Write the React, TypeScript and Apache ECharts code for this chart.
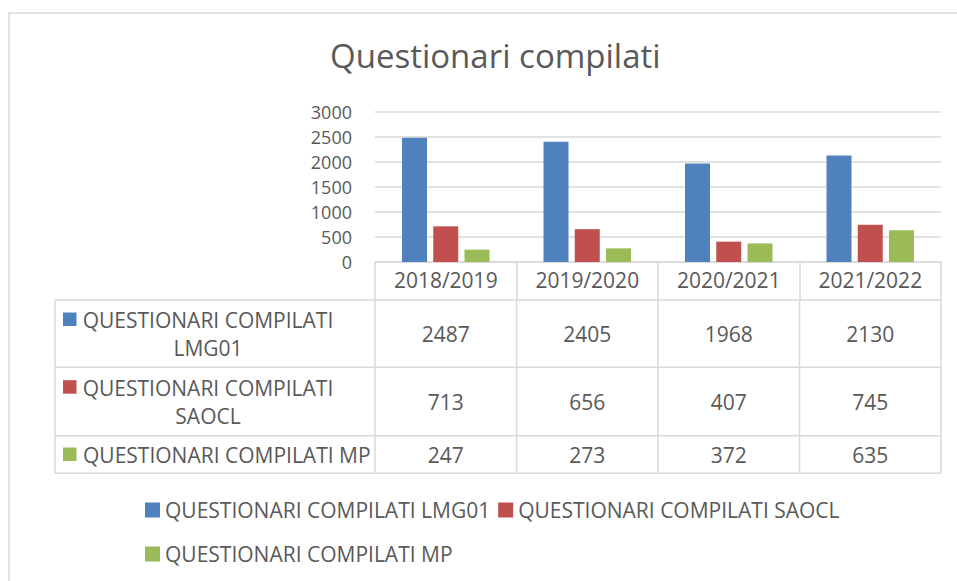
import React, { useEffect, useRef } from 'react';
import * as echarts from 'echarts';

const categories = ['2018/2019', '2019/2020', '2020/2021', '2021/2022'];
const seriesNames = ['QUESTIONARI COMPILATI LMG01', 'QUESTIONARI COMPILATI SAOCL', 'QUESTIONARI COMPILATI MP'];
const rowLabels = ['QUESTIONARI COMPILATI\nLMG01', 'QUESTIONARI COMPILATI\nSAOCL', 'QUESTIONARI COMPILATI MP'];
const lmg01 = [2487, 2405, 1968, 2130];
const saocl = [713, 656, 407, 745];
const mp = [247, 273, 372, 635];
const yMin = 0;
const yMax = 3000;
const yStep = 500;
const colors = ['#4f81bd', '#c0504d', '#9bbb59'];
const titleText = 'Questionari compilati';

const FONT = '"Open Sans", "Noto Sans", sans-serif';
const TXT = '#595959';
const GRID = '#d9d9d9';
const FS = 21;

export default function App() {
  const ref = useRef<HTMLDivElement>(null);
  useEffect(() => {
    if (!ref.current) return;
    const chart = echarts.init(ref.current, null, { renderer: 'svg' });
    const gridLeft = 375;
    const gridRight = 941;
    const gridTop = 112;
    const gridBottomY = 262;
    const allSeries = [lmg01, saocl, mp];
    chart.setOption({
      animation: false,
      backgroundColor: '#ffffff',
      title: {
        text: titleText,
        left: 325,
        top: 34,
        textStyle: { fontFamily: FONT, fontSize: 33, fontWeight: 'normal', color: TXT },
      },
      legend: {
        data: seriesNames,
        left: 140,
        top: 487,
        width: 720,
        itemWidth: 15,
        itemHeight: 15,
        itemGap: 8,
        icon: 'rect',
        textStyle: { fontFamily: FONT, fontSize: FS, color: TXT, lineHeight: 36 },
      },
      grid: { left: gridLeft, right: 957 - gridRight, top: gridTop, bottom: 581 - gridBottomY, containLabel: false },
      xAxis: {
        type: 'category',
        data: categories,
        axisLine: { show: true, lineStyle: { color: GRID, width: 1.5 } },
        axisTick: { show: true, length: 38, lineStyle: { color: GRID, width: 1.5 } },
        axisLabel: { fontFamily: FONT, fontSize: FS, color: TXT, margin: 7 },
      },
      yAxis: {
        type: 'value',
        min: yMin,
        max: yMax,
        interval: yStep,
        axisLine: { show: false },
        axisTick: { show: false },
        axisLabel: { fontFamily: FONT, fontSize: 18, lineHeight: 20, color: TXT, margin: 23, formatter: (v: number) => String(v) },
        splitLine: { lineStyle: { color: GRID, width: 1.5 } },
      },
      series: allSeries.map((d, i) => ({
        name: seriesNames[i],
        type: 'bar',
        data: d,
        barWidth: 25,
        barGap: '25%',
        itemStyle: { color: colors[i] },
      })),
    });

    const bandW = (gridRight - gridLeft) / categories.length;
    const rowLines = [300, 367.3, 435.7, 473.3];
    const tableLeft = 55;
    const graphics: any[] = [];
    graphics.push({
      type: 'rect', silent: true, z: -10,
      shape: { x: 9, y: 13, width: 980, height: 620 },
      style: { fill: 'none', stroke: GRID, lineWidth: 1.5 },
    });
    rowLines.forEach((y) => {
      graphics.push({ type: 'line', silent: true, shape: { x1: tableLeft, y1: y, x2: gridRight, y2: y }, style: { stroke: GRID, lineWidth: 1.5 } });
    });
    graphics.push({ type: 'line', silent: true, shape: { x1: tableLeft, y1: rowLines[0], x2: tableLeft, y2: rowLines[3] }, style: { stroke: GRID, lineWidth: 1.5 } });
    for (let i = 0; i <= categories.length; i++) {
      const x = gridLeft + i * bandW;
      graphics.push({ type: 'line', silent: true, shape: { x1: x, y1: rowLines[0], x2: x, y2: rowLines[3] }, style: { stroke: GRID, lineWidth: 1.5 } });
    }
    const rowCenters = rowLines.slice(0, 3).map((y, i) => (y + rowLines[i + 1]) / 2);
    const firstLineY = [319, 386.7, 454];
    rowLabels.forEach((lab, r) => {
      graphics.push({
        type: 'rect', silent: true,
        shape: { x: 63, y: firstLineY[r] - 6.5, width: 13.5, height: 13.5 },
        style: { fill: colors[r] },
      });
      const multi = lab.indexOf('\n') >= 0;
      graphics.push({
        type: 'text', silent: true,
        x: multi ? 208 : 83,
        y: rowCenters[r],
        style: {
          text: lab,
          fontFamily: FONT, fontSize: FS, fill: TXT,
          align: multi ? 'center' : 'left', verticalAlign: 'middle', lineHeight: 28,
        },
      });
      allSeries[r].forEach((v, c) => {
        const px = chart.convertToPixel({ xAxisIndex: 0 }, categories[c]) as number;
        graphics.push({
          type: 'text', silent: true,
          x: px, y: rowCenters[r],
          style: { text: String(v), fontFamily: FONT, fontSize: FS, fill: TXT, align: 'center', verticalAlign: 'middle' },
        });
      });
    });
    chart.setOption({ graphic: graphics });
    return () => chart.dispose();
  }, []);
  return <div ref={ref} style={{ position: 'absolute', left: 0, top: 0, width: 957, height: 581 }} />;
}
